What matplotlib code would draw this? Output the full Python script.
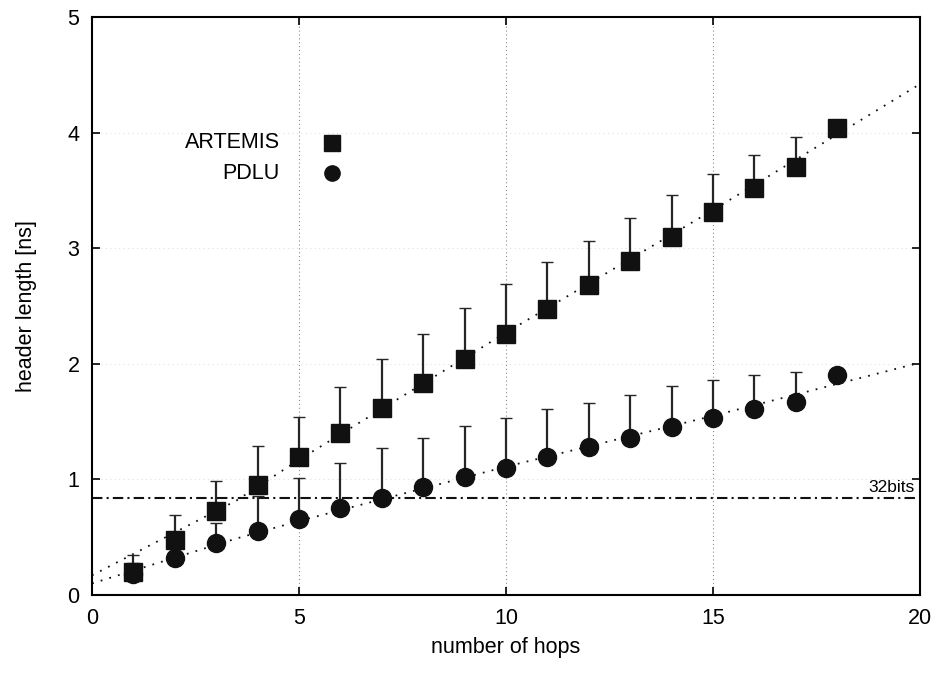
import numpy as np
import matplotlib.pyplot as plt

plt.rcParams['font.family'] = ['Liberation Sans', 'DejaVu Sans']

# data
hops = np.arange(1, 19)
artemis = [0.20, 0.48, 0.73, 0.95, 1.19, 1.40, 1.62, 1.83, 2.04, 2.26,
           2.47, 2.68, 2.89, 3.10, 3.31, 3.52, 3.70, 4.04]
artemis_top = [0.35, 0.69, 0.99, 1.29, 1.54, 1.80, 2.04, 2.26, 2.48, 2.69,
               2.88, 3.06, 3.26, 3.46, 3.64, 3.81, 3.96, 4.04]
pdlu = [0.18, 0.32, 0.45, 0.55, 0.66, 0.75, 0.84, 0.93, 1.02, 1.10,
        1.19, 1.28, 1.36, 1.45, 1.53, 1.61, 1.67, 1.90]
pdlu_top = [0.28, 0.45, 0.62, 0.86, 1.01, 1.14, 1.27, 1.36, 1.46, 1.53,
            1.61, 1.66, 1.73, 1.81, 1.86, 1.90, 1.93, 1.90]

# fitted curves (dotted)
fit_x = [0, 3.5, 5, 10, 15, 20]
artemis_fit = [0.17, 0.82, 1.17, 2.27, 3.33, 4.42]
pdlu_fit = [0.10, 0.49, 0.64, 1.11, 1.55, 2.01]

limit_x = [0, 20]
limit_32bits = [0.84, 0.84]

fig = plt.figure(figsize=(9.44, 6.74), dpi=100)
ax = fig.add_axes([0.0975, 0.1172, 0.8771, 0.8576])

ax.set_xlim(0, 20)
ax.set_ylim(0, 5)

# grid
for gx in [5, 10, 15]:
    ax.axvline(gx, color='0.55', ls=(0, (1, 2.5)), lw=0.8, zorder=0)
for gy in [1, 2, 3, 4]:
    ax.axhline(gy, color='0.88', ls=(0, (1, 3)), lw=0.8, zorder=0)

ink = '#111111'

ax.plot(fit_x, artemis_fit, color=ink, ls=(0, (1, 4)), lw=1.3, zorder=2)
ax.plot(fit_x, pdlu_fit, color=ink, ls=(0, (1, 4)), lw=1.3, zorder=2)
ax.plot(limit_x, limit_32bits, color=ink, ls=(0, (5, 2, 1, 2)), lw=1.5, zorder=2)
ax.text(19.86, 0.93, '32bits', ha='right', va='center', fontsize=12.5)

a = np.array(artemis)
p = np.array(pdlu)
ax.errorbar(hops, a, yerr=[np.zeros_like(a), np.array(artemis_top) - a],
            fmt='none', ecolor='0.15', elinewidth=1.6, capsize=4, capthick=1, zorder=3)
ax.errorbar(hops, p, yerr=[np.zeros_like(p), np.array(pdlu_top) - p],
            fmt='none', ecolor='0.15', elinewidth=1.6, capsize=4, capthick=1, zorder=3)
ax.plot(hops, a, 's', color=ink, ms=12.5, zorder=4)
ax.plot(hops, p, 'o', color=ink, ms=13, zorder=4)

# key
ax.text(0.227, 0.782, 'ARTEMIS', transform=ax.transAxes, ha='right', va='center', fontsize=15.5)
ax.text(0.227, 0.730, 'PDLU', transform=ax.transAxes, ha='right', va='center', fontsize=15.5)
ax.plot([0.290], [0.782], 's', color=ink, ms=11, transform=ax.transAxes)
ax.plot([0.290], [0.730], 'o', color=ink, ms=11, transform=ax.transAxes)

ax.set_xticks([0, 5, 10, 15, 20])
ax.set_yticks([0, 1, 2, 3, 4, 5])
ax.tick_params(direction='in', top=True, right=True, length=6, width=1.2,
               labelsize=15.5, pad=9)
for s in ax.spines.values():
    s.set_linewidth(1.5)

ax.set_xlabel('number of hops', fontsize=15.5, labelpad=6)
ax.set_ylabel('header length [ns]', fontsize=15.5, labelpad=22)

fig.savefig('out.png', dpi=100)
